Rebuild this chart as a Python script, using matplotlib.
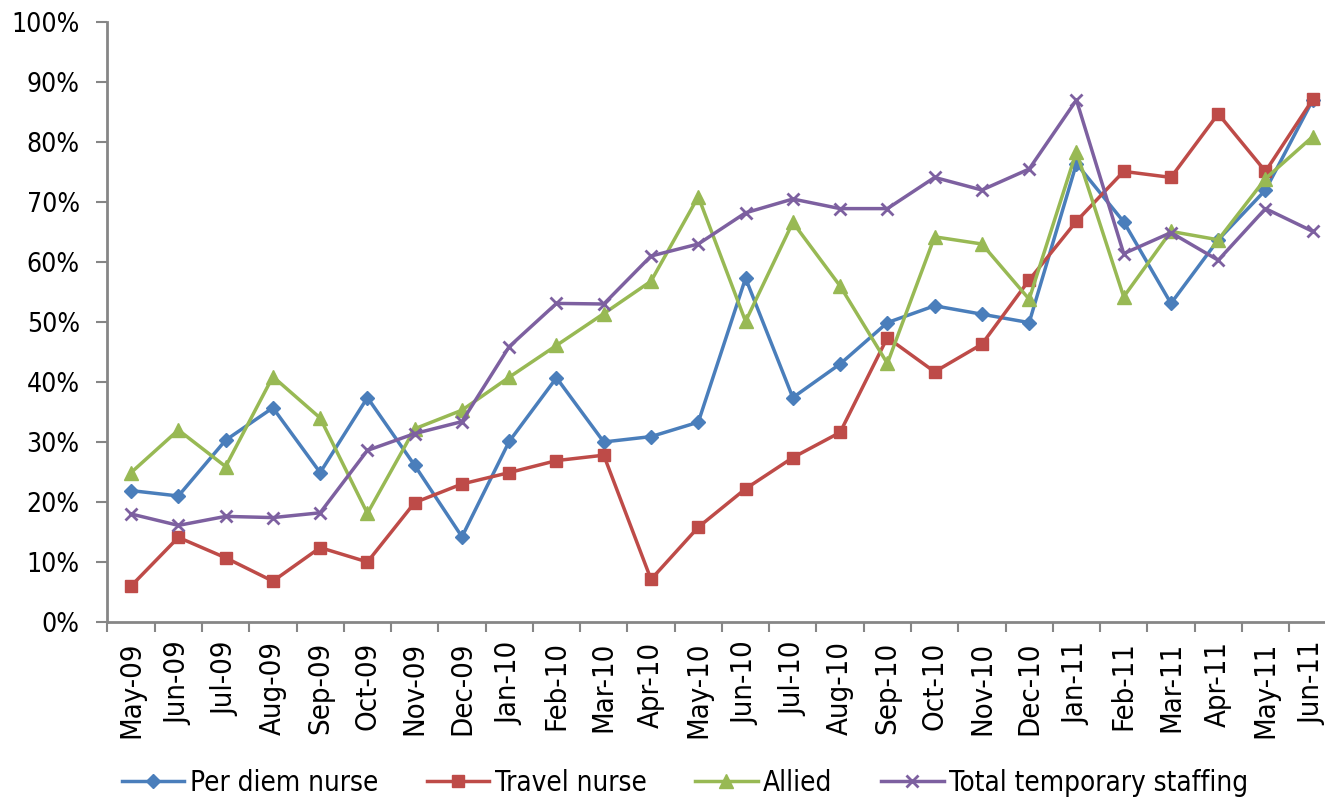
import numpy as np
import matplotlib
matplotlib.use("Agg")
import matplotlib.pyplot as plt
from matplotlib.ticker import PercentFormatter

months = ["May-09", "Jun-09", "Jul-09", "Aug-09", "Sep-09", "Oct-09", "Nov-09", "Dec-09",
          "Jan-10", "Feb-10", "Mar-10", "Apr-10", "May-10", "Jun-10", "Jul-10", "Aug-10",
          "Sep-10", "Oct-10", "Nov-10", "Dec-10", "Jan-11", "Feb-11", "Mar-11", "Apr-11",
          "May-11", "Jun-11"]

per_diem = [21.9, 21.0, 30.3, 35.7, 24.9, 37.4, 26.1, 14.2, 30.1, 40.7, 30.0, 30.9, 33.3,
            57.3, 37.4, 43.0, 49.9, 52.7, 51.3, 49.9, 76.4, 66.7, 53.1, 63.7, 72.0, 87.0]
travel = [6.0, 14.1, 10.7, 6.8, 12.4, 10.0, 19.9, 23.0, 24.9, 26.9, 27.8, 7.1, 15.8,
          22.2, 27.4, 31.6, 47.4, 41.7, 46.3, 57.0, 66.8, 75.1, 74.1, 84.7, 75.1, 87.1]
allied = [24.9, 32.0, 25.9, 40.9, 34.0, 18.1, 32.2, 35.3, 40.8, 46.1, 51.4, 56.8, 70.9,
          50.1, 66.6, 56.0, 43.1, 64.2, 63.0, 53.8, 78.4, 54.2, 65.1, 63.7, 73.9, 80.9]
total = [18.0, 16.1, 17.6, 17.4, 18.2, 28.6, 31.4, 33.4, 45.9, 53.1, 53.0, 61.0, 63.0,
         68.2, 70.5, 68.9, 68.9, 74.1, 72.0, 75.5, 87.0, 61.4, 64.9, 60.3, 68.9, 65.1]

# condensed face, closest to the narrow font of the original
plt.rcParams['font.family'] = ['DejaVu Sans']
plt.rcParams['font.stretch'] = 'condensed'

fig = plt.figure(figsize=(13.25, 8.01), dpi=100)
ax = fig.add_axes([0.0811, 0.2235, 0.9275, 0.749])

x = np.arange(len(months))
lw = 2.5
ax.plot(x, per_diem, color="#4A7EBB", lw=lw, marker="D", ms=7, label="Per diem nurse")
ax.plot(x, travel, color="#BE4B48", lw=lw, marker="s", ms=8, label="Travel nurse")
ax.plot(x, allied, color="#98B954", lw=lw, marker="^", ms=9.5, label="Allied")
ax.plot(x, total, color="#7D60A0", lw=lw, marker="x", ms=8.5, mew=2, label="Total temporary staffing")

ax.set_xlim(-0.5, len(months) - 0.5)
ax.set_ylim(0, 100)
ax.set_yticks(np.arange(0, 101, 10))
ax.yaxis.set_major_formatter(PercentFormatter(decimals=0))
ax.set_xticks(np.arange(-0.5, len(months), 1.0))
ax.set_xticklabels([])
ax.set_xticks(x, minor=True)
ax.set_xticklabels(months, minor=True, rotation=90)
ax.tick_params(axis="x", which="minor", length=0, labelsize=21, pad=14)
ax.tick_params(axis="x", which="major", length=7, width=1.5, color="#868686")
ax.tick_params(axis="y", length=8, width=1.5, color="#868686", labelsize=19, pad=12)

for s in ["top", "right"]:
    ax.spines[s].set_visible(False)
for s in ["left", "bottom"]:
    ax.spines[s].set_color("#868686")
    ax.spines[s].set_linewidth(2)

fig.legend(loc="center", bbox_to_anchor=(0.517, 0.0225), ncol=4, frameon=False,
           fontsize=20, handlelength=2.25, columnspacing=1.75, handletextpad=0.2)

fig.savefig("out.png", dpi=100)
